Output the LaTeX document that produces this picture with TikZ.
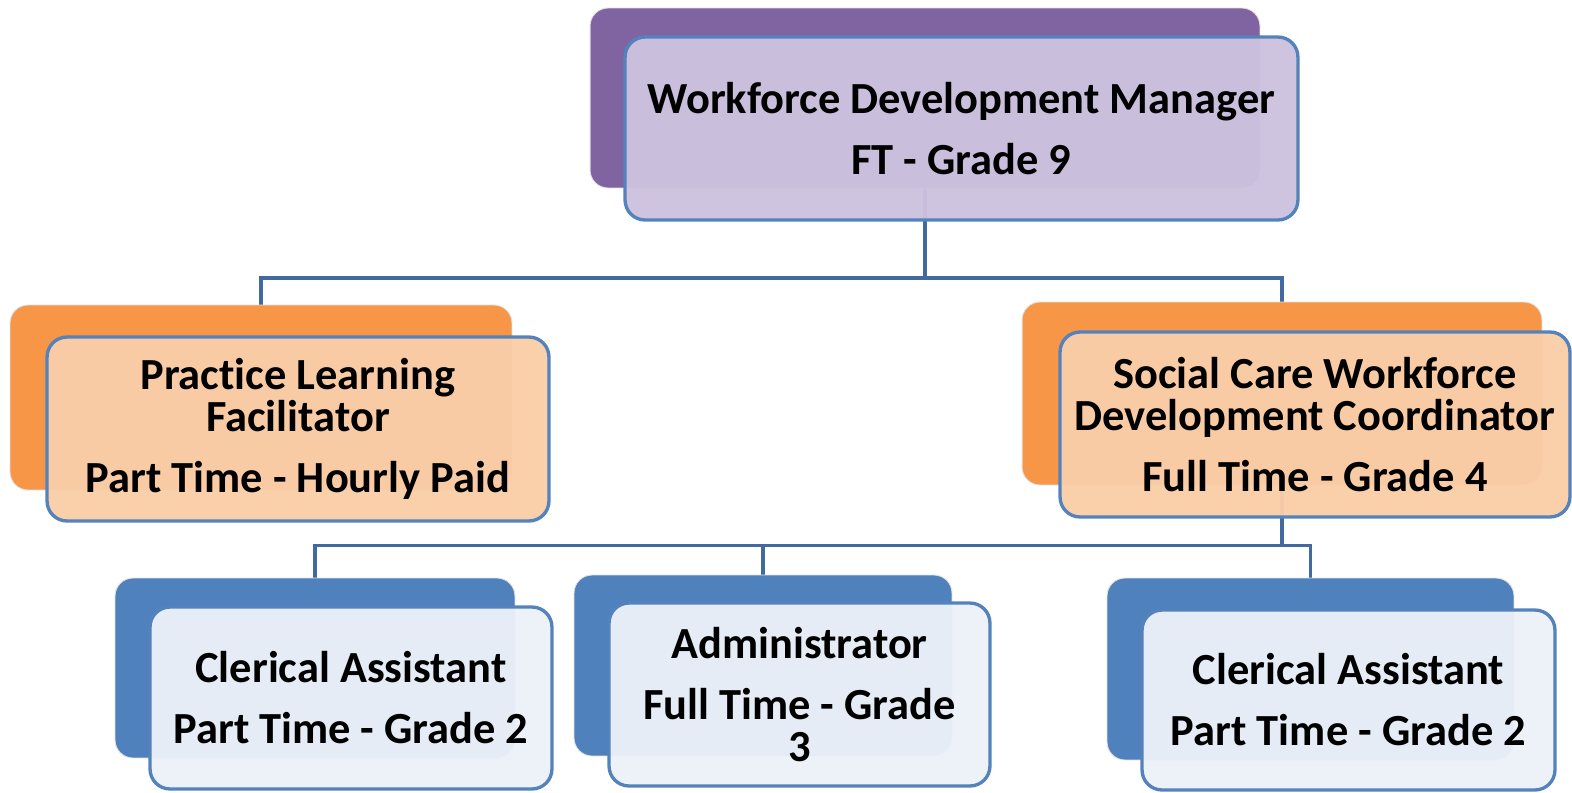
\documentclass[tikz,border=0pt]{standalone}
\usepackage{fontspec}
\setmainfont{Carlito}[Ligatures=NoCommon]
\usepackage{tikz}
\usepackage{xcolor}
\usetikzlibrary{calc, positioning}

\definecolor{mgrback}{RGB}{128,100,162}
\definecolor{mgrfront}{RGB}{205,194,222}
\definecolor{midback}{RGB}{247,150,70}
\definecolor{midfront}{RGB}{250,206,168}
\definecolor{lowback}{RGB}{79,129,189}
\definecolor{lowfront}{RGB}{236,241,248}
\definecolor{edgeblue}{RGB}{84,130,188}
\definecolor{linkblue}{RGB}{66,106,160}

\pgfdeclarelayer{background}
\pgfsetlayers{background,main}

\begin{document}
\begin{tikzpicture}[x=0.02cm, y=-0.02cm,
    backbox/.style={rounded corners=0.36cm, draw=black!12, line width=0.5pt, inner sep=0pt},
    frontbox/.style={rounded corners=0.4cm, draw=edgeblue, line width=1.9pt, fill opacity=0.96, text opacity=1, inner sep=0pt, align=center, font=\fontsize{25.3pt}{23.9pt}\selectfont\bfseries},
    link/.style={draw=linkblue, line width=2.2pt}]
    \useasboundingbox (0, 0) rectangle (1572, 792);

    % top level
    \node[backbox, fill=mgrback, minimum width=13.4cm, minimum height=3.6cm] (wdmback) at (925, 98) {};
    \node[frontbox, fill=mgrfront, minimum width=13.46cm, minimum height=3.66cm] (wdm) at (961.5, 128.5) {Workforce Development Manager\\[0.38cm]FT - Grade 9};

    % second level
    \node[backbox, fill=midback, minimum width=10.04cm, minimum height=3.7cm] (plfback) at (261, 397.5) {};
    \node[frontbox, fill=midfront, minimum width=10.04cm, minimum height=3.68cm] (plf) at (298, 429) {Practice Learning\\Facilitator\\[0.38cm]Part Time - Hourly Paid};

    \node[backbox, fill=midback, minimum width=10.4cm, minimum height=3.66cm] (scwback) at (1282, 393.5) {};
    \node[frontbox, fill=midfront, minimum width=10.2cm, minimum height=3.7cm] (scw) at (1315, 424.5) {Social Care Workforce\\Development Coordinator\\[0.38cm]Full Time - Grade 4};

    % third level
    \node[backbox, fill=lowback, minimum width=8cm, minimum height=3.6cm] (caleftback) at (315, 668) {};
    \node[frontbox, fill=lowfront, minimum width=8.04cm, minimum height=3.64cm] (caleft) at (351, 698) {Clerical Assistant\\[0.38cm]Part Time - Grade 2};

    \node[backbox, fill=lowback, minimum width=7.56cm, minimum height=3.62cm] (adminback) at (763, 665.5) {};
    \node[frontbox, fill=lowfront, minimum width=7.62cm, minimum height=3.66cm] (admin) at (799.5, 694.5) {Administrator\\[0.38cm]Full Time - Grade\\3};

    \node[backbox, fill=lowback, minimum width=8.14cm, minimum height=3.64cm] (carightback) at (1310.5, 669) {};
    \node[frontbox, fill=lowfront, minimum width=8.26cm, minimum height=3.6cm] (caright) at (1348.5, 700) {Clerical Assistant\\[0.38cm]Part Time - Grade 2};

    % connectors
    \begin{pgfonlayer}{background}
        \coordinate (busa) at ($(wdmback.south) + (0, 90)$);
        \coordinate (busb) at ($(scwback.south) + (0, 60)$);
        \draw[link] (wdmback.south) -- (busa) -| (plfback.north);
        \draw[link] (busa) -| (scwback.north);
        \draw[link] (scwback.south) -- (busb) -| (caleftback.north);
        \draw[link] (busb) -| (adminback.north);
        \draw[link] (busb) -| (carightback.north);
    \end{pgfonlayer}
\end{tikzpicture}
\end{document}
